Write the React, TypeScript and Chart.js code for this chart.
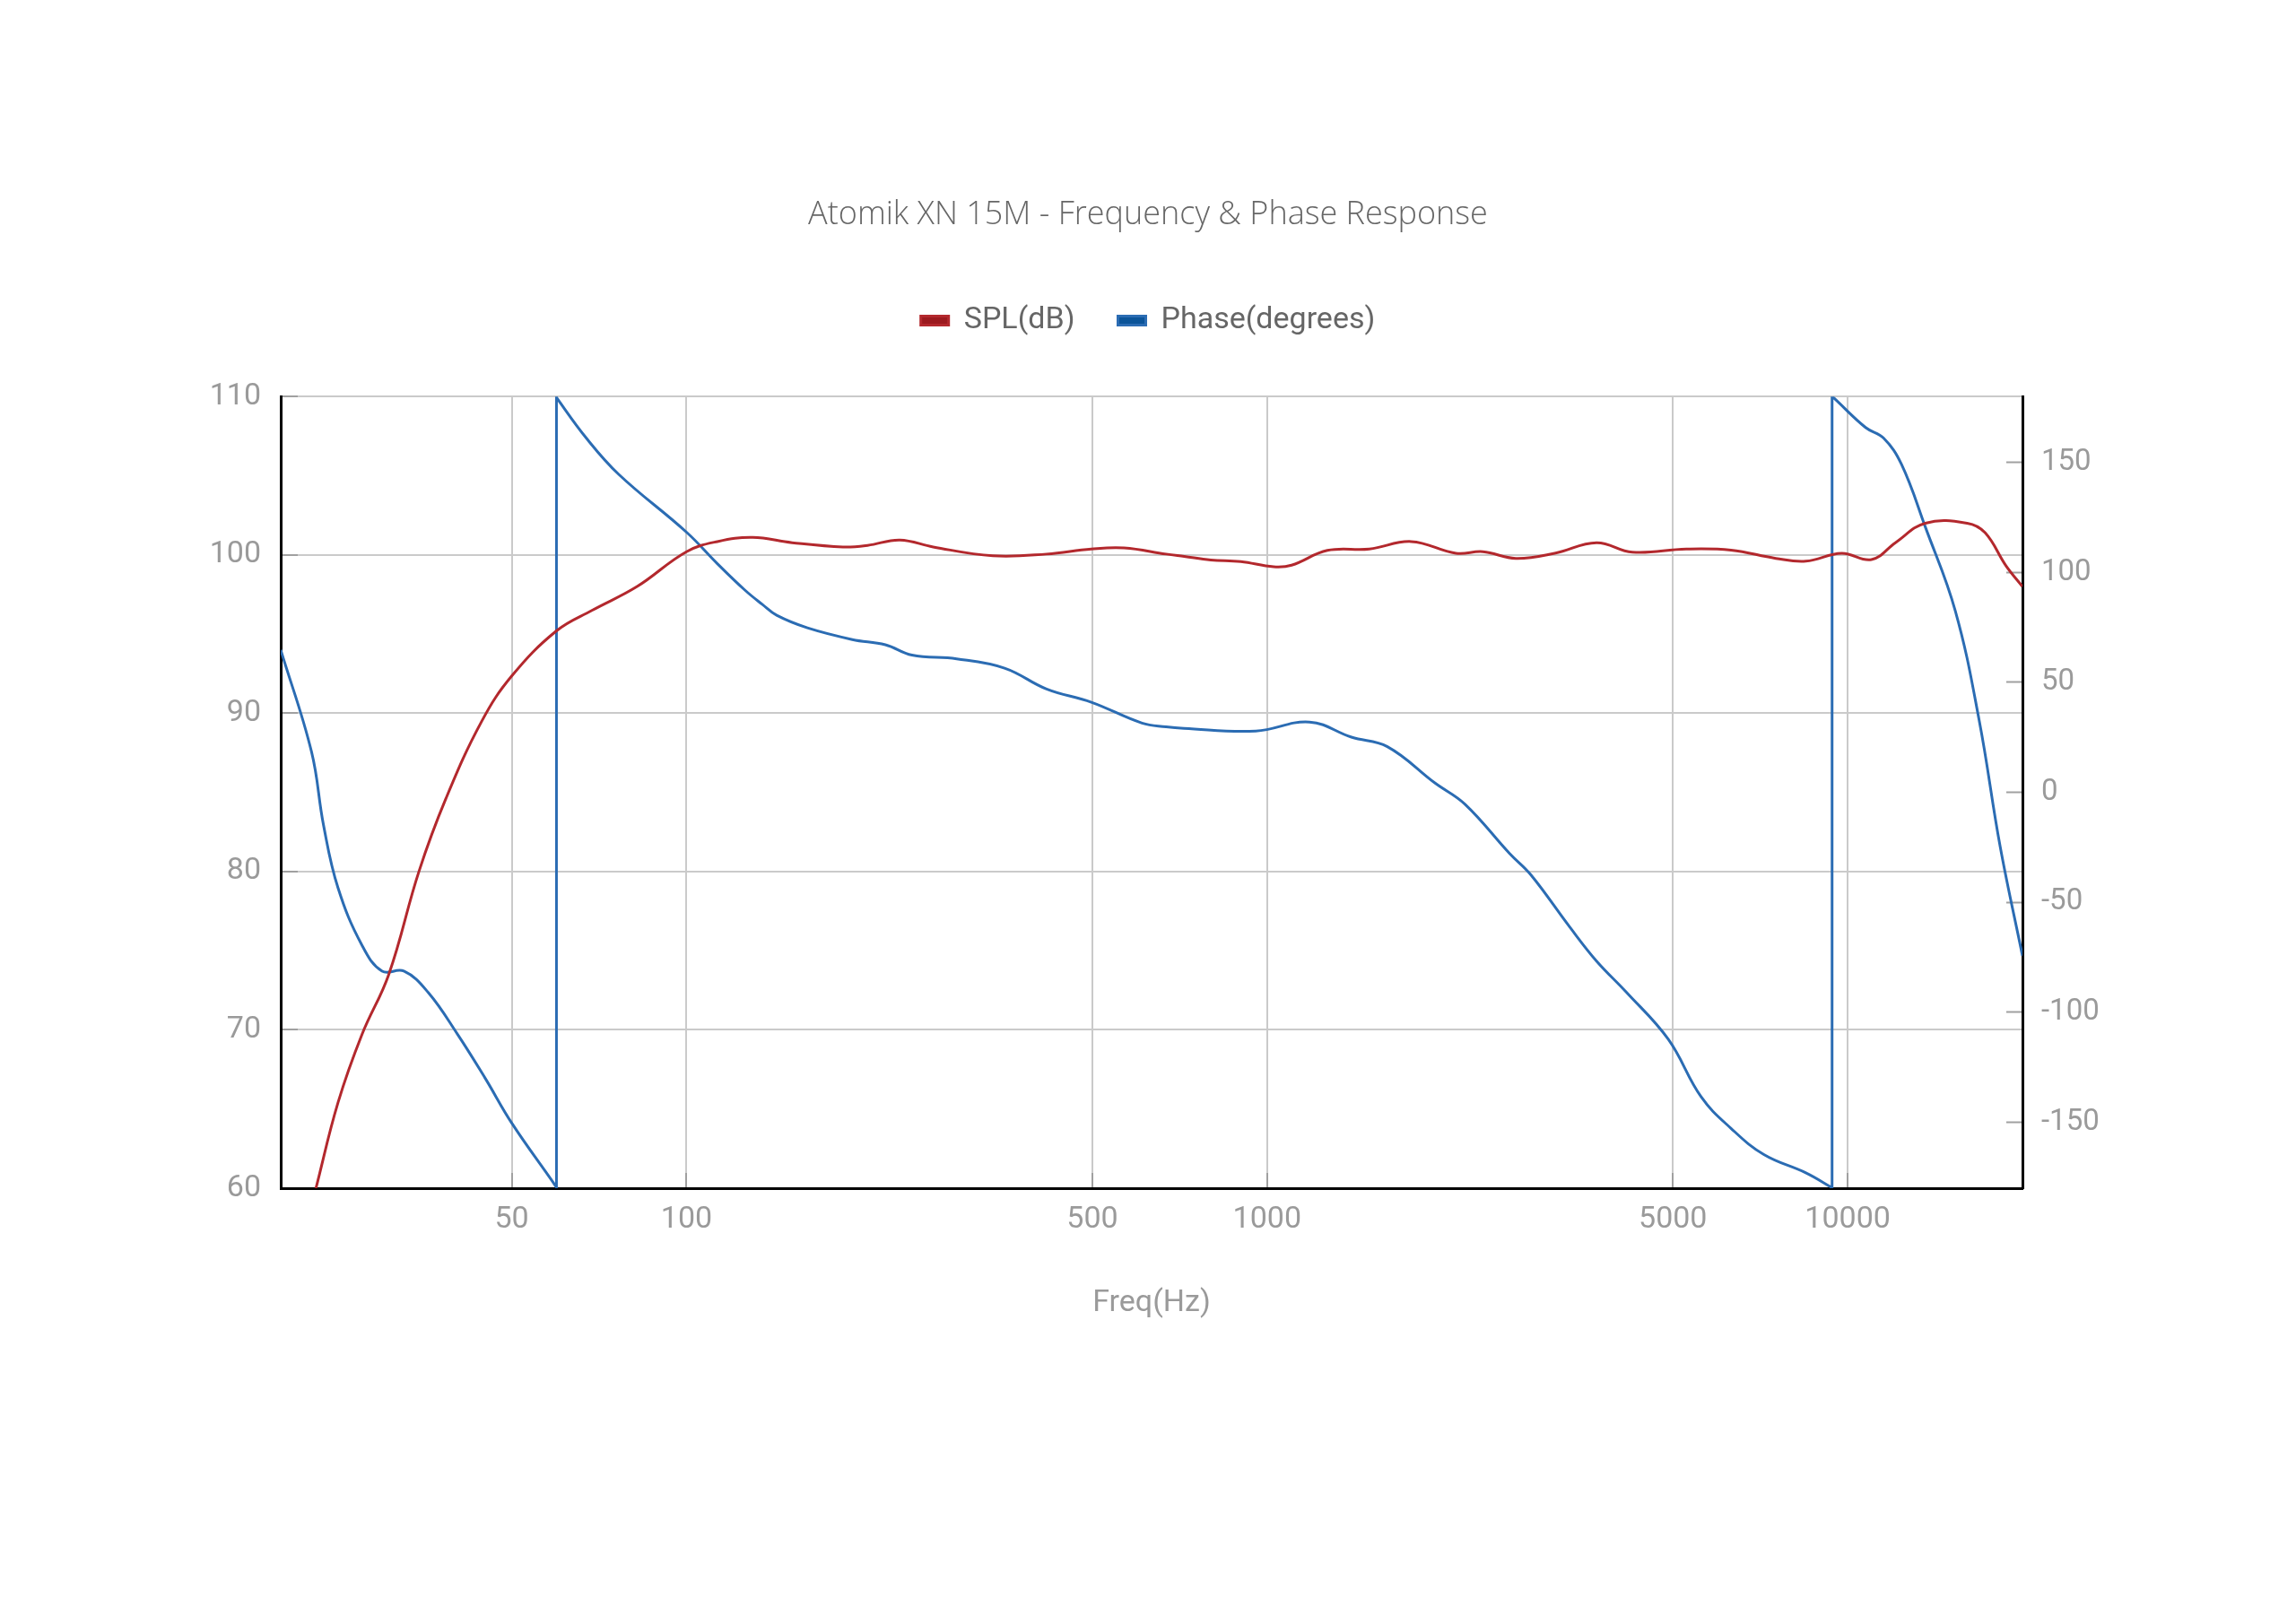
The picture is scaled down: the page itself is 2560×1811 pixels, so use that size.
import { useEffect, useRef } from "react";
import { Chart, registerables } from "chart.js";

Chart.register(...registerables);

// SPL curve (Hz -> dB)
const splFreq = [
  23, 25.1, 27.6, 30.7, 34.6, 38.5, 44.4, 50, 59.7, 68.8,
  82.2, 100, 113, 130, 152, 186, 205, 233, 266, 337,
  417, 498, 567, 670, 720, 800, 901, 1026, 1102, 1270,
  1500, 1771, 2115, 2353, 2682, 3128, 3693, 4257, 5271, 6296,
  7521, 8469, 9764, 10990, 12085, 13606, 16063, 17246, 18744, 20000,
];
const splDb = [
  60, 65.4, 69.7, 73.5, 80, 84.6, 89.5, 92.35, 95.2, 96.5,
  98, 100.2, 100.84, 101.1, 100.77, 100.5, 100.6, 100.94, 100.5, 99.94,
  100.05, 100.37, 100.44, 100.05, 99.9, 99.68, 99.58, 99.25, 99.35, 100.28,
  100.37, 100.84, 100.1, 100.2, 99.78, 100.1, 100.77, 100.17, 100.37, 100.3,
  99.78, 99.6, 100.1, 99.7, 100.77, 102, 102, 101.4, 99.3, 98,
];

// phase curve (Hz -> degrees), wraps at about 60 Hz and 9.4 kHz
const phaseFreq = [
  20, 22.6, 23.7, 25.1, 27.6, 29.9, 32.6, 35.9, 40.3, 45,
  50, 59.6, 59.7, 59.7, 59.8, 67.2, 76.5, 100, 113, 125.9,
  135, 143, 161.5, 193, 220, 244.5, 292, 353, 417, 498,
  609, 670, 719, 956, 1183, 1397, 1611, 1947, 2192, 2618,
  2846, 3320, 3693, 4158, 4909, 5593, 6296, 7173, 8469, 9330,
  9400, 9400, 9470, 10737, 11530, 12377, 13606, 15322, 16848, 18302,
  20000,
];
const phaseDeg = [
  64.8, 18.4, -14.9, -43.4, -69.5, -81.3, -81.3, -91, -109.9, -130,
  -150.4, -179.3, -180, 180, 179.3, 161.1, 144.5, 118.3, 104, 92.1,
  85.5, 80.5, 74.8, 69.5, 67.1, 62.4, 60.7, 56.5, 47, 41,
  31.5, 29.8, 29.1, 27.9, 32, 25.1, 20.8, 4.2, -5.4, -27.9,
  -37.5, -61.2, -76.7, -90.9, -112.3, -138.5, -152.8, -164.7, -173, -179.3,
  -180, 180, 179.3, 165.9, 161.1, 149.2, 120.7, 82.6, 32.7, -24.4,
  -74.3,
];

const freqTicks = [50, 100, 500, 1000, 5000, 10000];
const phaseTicks = [-150, -100, -50, 0, 50, 100, 150];

const FONT = "Roboto, 'Liberation Sans', sans-serif";
const LABEL_GREY = "#9a9a9a";
const GRID = "#cacaca";
const TICK = "#a0a0a0";

export default function App() {
  const canvasRef = useRef<HTMLCanvasElement>(null);

  useEffect(() => {
    if (!canvasRef.current) return;
    const chart = new Chart(canvasRef.current, {
      type: "line",
      data: {
        datasets: [
          {
            label: "SPL(dB)",
            data: splFreq.map((f, i) => ({ x: f, y: splDb[i] })),
            borderColor: "#b3282d",
            backgroundColor: "#9c1a1f",
            borderWidth: 3,
            pointRadius: 0,
            tension: 0.4,
            xAxisID: "x",
            yAxisID: "y",
          },
          {
            label: "Phase(degrees)",
            data: phaseFreq.map((f, i) => ({ x: f, y: phaseDeg[i] })),
            borderColor: "#2b6cb3",
            backgroundColor: "#0b5499",
            borderWidth: 3,
            pointRadius: 0,
            tension: 0.4,
            xAxisID: "x",
            yAxisID: "y1",
          },
        ],
      },
      options: {
        animation: false,
        responsive: true,
        maintainAspectRatio: false,
        devicePixelRatio: 1,
        events: [],
        layout: { padding: 0 },
        plugins: {
          title: {
            display: true,
            text: "Atomik XN 15M - Frequency & Phase Response",
            color: "#666",
            font: { family: "'Open Sans', sans-serif", size: 36, weight: 300 as any },
            padding: { top: 218, bottom: 31.3 },
          },
          legend: {
            display: true,
            position: "top",
            labels: {
              color: "#666",
              font: { family: FONT, size: 34 },
              boxWidth: 31,
              boxHeight: 10,
              padding: 48,
            },
          },
          tooltip: { enabled: false },
        },
        scales: {
          x: {
            type: "logarithmic",
            position: "bottom",
            min: 20,
            max: 20000,
            afterBuildTicks: (scale: any) => {
              scale.ticks = freqTicks.map((v) => ({ value: v }));
            },
            afterFit: (scale: any) => {
              scale.height = 486;
            },
            ticks: {
              color: LABEL_GREY,
              font: { family: FONT, size: 34 },
              padding: 31.6,
              maxRotation: 0,
              autoSkip: false,
              callback: (v: any) => String(v),
            },
            grid: {
              color: GRID,
              lineWidth: 2,
              tickLength: -17,
              tickColor: TICK,
              tickWidth: 2,
            },
            border: { display: true, color: "#000", width: 3 },
            title: {
              display: true,
              text: "Freq(Hz)",
              color: LABEL_GREY,
              font: { family: FONT, size: 34 },
              padding: { top: 0, bottom: 337.6 },
            },
          },
          // empty spacer axis between the legend and the plot
          xTop: {
            type: "linear",
            position: "top",
            display: true,
            afterFit: (scale: any) => {
              scale.height = 57.7;
            },
            ticks: { display: false },
            grid: { display: false },
            border: { display: false },
          },
          y: {
            type: "linear",
            position: "left",
            min: 60,
            max: 110,
            afterFit: (scale: any) => {
              scale.width = 313;
            },
            ticks: {
              stepSize: 10,
              color: LABEL_GREY,
              font: { family: FONT, size: 34 },
              padding: 41,
            },
            grid: {
              color: GRID,
              lineWidth: 2,
              tickLength: -19,
              tickColor: TICK,
              tickWidth: 2,
            },
            border: { display: true, color: "#000", width: 3 },
          },
          y1: {
            type: "linear",
            position: "right",
            min: -180,
            max: 180,
            afterBuildTicks: (scale: any) => {
              scale.ticks = phaseTicks.map((v) => ({ value: v }));
            },
            afterFit: (scale: any) => {
              scale.width = 305;
            },
            ticks: {
              color: LABEL_GREY,
              font: { family: FONT, size: 33 },
              padding: 39,
            },
            grid: {
              drawOnChartArea: false,
              tickLength: -18,
              tickColor: TICK,
              tickWidth: 2,
            },
            border: { display: true, color: "#000", width: 3 },
          },
        },
      },
    });
    return () => {
      chart.destroy();
    };
  }, []);

  return (
    <div style={{ position: "fixed", left: 0, top: 0, width: 2560, height: 1811, background: "#fff" }}>
      <canvas ref={canvasRef}></canvas>
    </div>
  );
}
